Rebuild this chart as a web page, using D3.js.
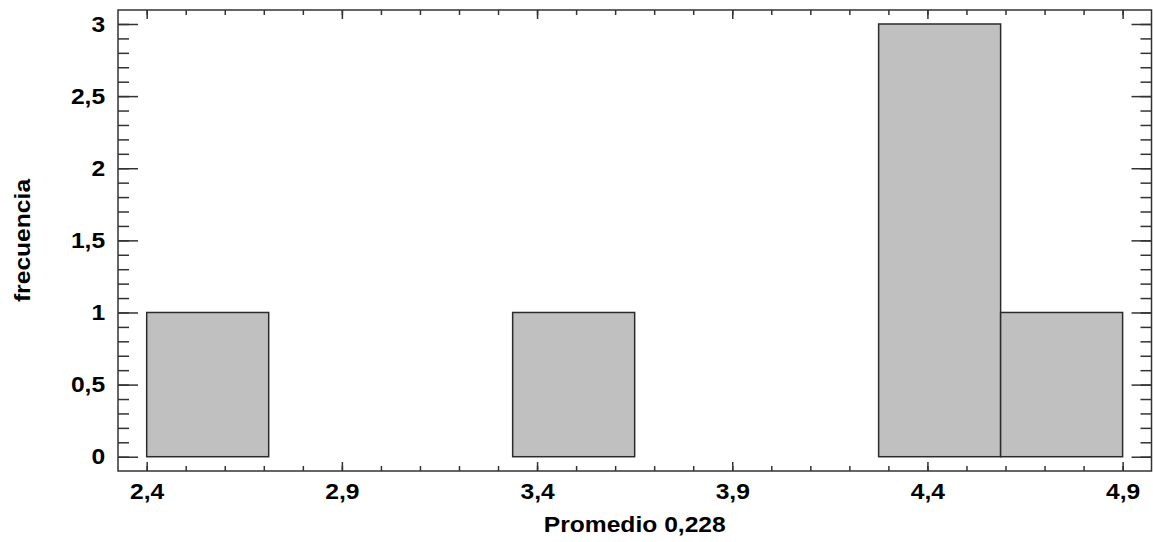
<!DOCTYPE html>
<html>
<head>
<meta charset="utf-8">
<script src="https://cdn.jsdelivr.net/npm/d3@7"></script>
<style>
  body { margin: 0; background: #fff; }
  svg text { font-family: "Liberation Sans", Arial, sans-serif; font-weight: bold; fill: #000; }
</style>
</head>
<body>
<script>
// histogram bins (lower edges) and counts
var binEdges = [2.4, 2.7125, 3.025, 3.3375, 3.65, 3.9625, 4.275, 4.5875, 4.9];
var counts = [1, 0, 0, 1, 0, 0, 3, 1];

var xTicks = [2.4, 2.9, 3.4, 3.9, 4.4, 4.9];
var yTicks = [0, 0.5, 1, 1.5, 2, 2.5, 3];
var xLabel = "Promedio 0,228";
var yLabel = "frecuencia";

var width = 1153, height = 542;
var margin = {top: 10, right: 1.5, bottom: 71, left: 118};
var w = width - margin.left - margin.right,
    h = height - margin.top - margin.bottom;

// the original text is a bit wider than Arial
var stretch = "scale(1.12,1)";

var svg = d3.select("body").append("svg")
    .attr("width", width)
    .attr("height", height)
  .append("g")
    .attr("transform", "translate(" + margin.left + "," + margin.top + ")");

var x = d3.scaleLinear().domain([2.3265, 4.974]).range([0, w]);
var y = d3.scaleLinear().domain([-0.099, 3.097]).range([h, 0]);

var comma = function(d) { return String(d).replace(".", ","); };

var bins = counts.map(function(c, i) {
  return {x0: binEdges[i], x1: binEdges[i + 1], n: c};
});

// bars (empty bins leave a flat line on zero)
svg.selectAll("rect.bar")
    .data(bins)
  .enter().append("rect")
    .attr("class", "bar")
    .attr("x", function(d) { return x(d.x0); })
    .attr("y", function(d) { return y(d.n); })
    .attr("width", function(d) { return x(d.x1) - x(d.x0); })
    .attr("height", function(d) { return y(0) - y(d.n); })
    .style("fill", "#c0c0c0")
    .style("stroke", "#2b2b2b")
    .style("stroke-width", 1.5);

var xMinor = d3.range(24, 50).map(function(d) { return d / 10; });
var yMinor = d3.range(0, 31).map(function(d) { return d / 10; });

function styleAxis(g) {
  g.select(".domain").remove();
  g.selectAll("line").style("stroke", "#333").style("stroke-width", 1.5);
  g.selectAll("text")
      .style("font-size", "22px")
      .attr("fill", "#000")
      .attr("transform", stretch);
}

// bottom
svg.append("g").attr("transform", "translate(0," + h + ")")
    .call(d3.axisBottom(x).tickValues(xMinor).tickSize(-5).tickFormat(""))
    .call(styleAxis);
svg.append("g").attr("transform", "translate(0," + h + ")")
    .call(d3.axisBottom(x).tickValues(xTicks).tickSize(-9).tickPadding(12).tickFormat(comma))
    .call(styleAxis);
// top
svg.append("g")
    .call(d3.axisTop(x).tickValues(xMinor).tickSize(-5).tickFormat(""))
    .call(styleAxis);
svg.append("g")
    .call(d3.axisTop(x).tickValues(xTicks).tickSize(-9).tickFormat(""))
    .call(styleAxis);
// left
svg.append("g")
    .call(d3.axisLeft(y).tickValues(yMinor).tickSize(-11).tickFormat(""))
    .call(styleAxis);
svg.append("g")
    .call(d3.axisLeft(y).tickValues(yTicks).tickSize(-20).tickPadding(11.5).tickFormat(comma))
    .call(styleAxis);
// right
svg.append("g").attr("transform", "translate(" + w + ",0)")
    .call(d3.axisRight(y).tickValues(yMinor).tickSize(-11).tickFormat(""))
    .call(styleAxis);
svg.append("g").attr("transform", "translate(" + w + ",0)")
    .call(d3.axisRight(y).tickValues(yTicks).tickSize(-20).tickFormat(""))
    .call(styleAxis);

// frame
svg.append("rect")
    .attr("width", w)
    .attr("height", h)
    .style("fill", "none")
    .style("stroke", "#333")
    .style("stroke-width", 1.5);

// axis titles
svg.append("g")
    .attr("transform", "translate(" + (w / 2) + "," + (h + 61) + ")")
  .append("text")
    .attr("text-anchor", "middle")
    .attr("transform", stretch)
    .style("font-size", "22px")
    .text(xLabel);

svg.append("g")
    .attr("transform", "translate(" + (30 - margin.left) + "," + (h / 2) + ") rotate(-90)")
  .append("text")
    .attr("text-anchor", "middle")
    .attr("transform", stretch)
    .style("font-size", "22px")
    .text(yLabel);
</script>
</body>
</html>
